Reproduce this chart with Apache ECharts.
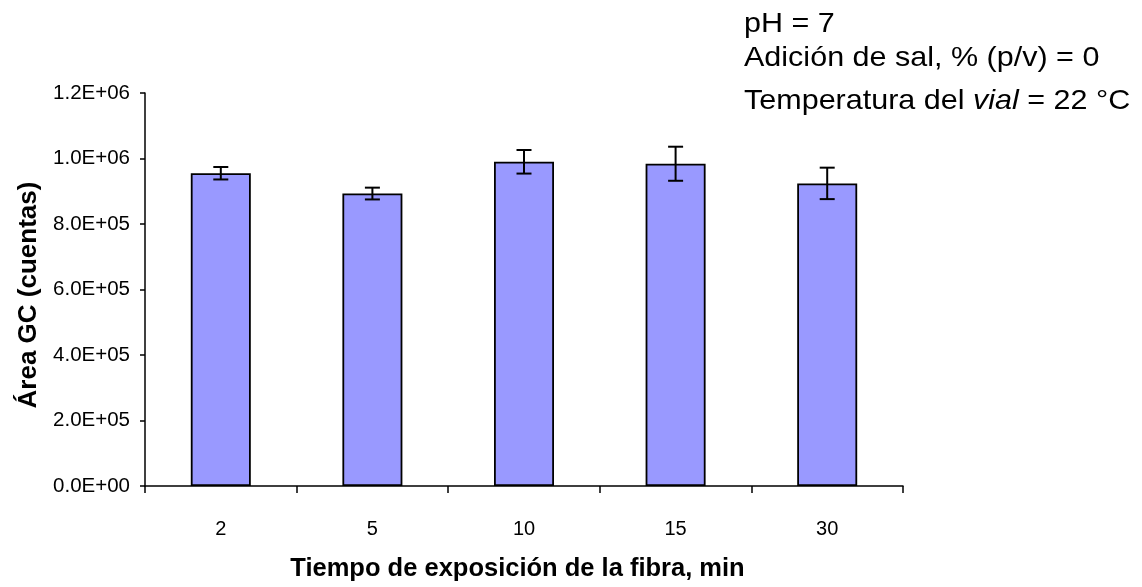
<!DOCTYPE html>
<html>
<head>
<meta charset="utf-8">
<script src="https://cdn.jsdelivr.net/npm/echarts@6/dist/echarts.min.js"></script>
<style>
html,body{margin:0;padding:0;background:#fff;}
#chart{width:1142px;height:587px;}
</style>
</head>
<body>
<div id="chart"></div>
<script>
// ---- data ----
var categories = ['2', '5', '10', '15', '30'];
var areaValues = [955000, 893000, 990000, 984000, 924000];
var areaErrors = [19000, 18000, 36000, 52000, 48000];
var yTickLabels = ['0.0E+00', '2.0E+05', '4.0E+05', '6.0E+05', '8.0E+05', '1.0E+06', '1.2E+06'];
var noteLines = ['pH = 7', 'Adición de sal, % (p/v) = 0', 'Temperatura del {it|vial} = 22 °C'];
var xTitle = 'Tiempo de exposición de la fibra, min';
var yTitle = 'Área GC (cuentas)';

var FONT = '"Liberation Sans", Arial, sans-serif';
var errData = areaValues.map(function (v, i) { return [i, v - areaErrors[i], v + areaErrors[i]]; });

var chart = echarts.init(document.getElementById('chart'), null, {renderer: 'canvas'});
chart.setOption({
  animation: false,
  backgroundColor: '#ffffff',
  grid: {left: 145, right: 239, top: 93, bottom: 99},
  xAxis: {
    type: 'category',
    data: categories,
    boundaryGap: true,
    name: xTitle,
    nameLocation: 'middle',
    nameGap: 70,
    nameTextStyle: {fontFamily: FONT, fontSize: 25.5, fontWeight: 'bold', color: '#000', padding: [0, 13, 0, 0]},
    axisLine: {lineStyle: {color: '#000', width: 1.5}},
    axisTick: {show: true, interval: 0, length: 7, lineStyle: {color: '#000', width: 1.5}},
    axisLabel: {fontFamily: FONT, fontSize: 20, color: '#000', margin: 33, interval: 0}
  },
  yAxis: {
    type: 'value',
    min: 0, max: 1200000, interval: 200000,
    name: yTitle,
    nameLocation: 'middle',
    nameRotate: 90,
    nameGap: 103,
    nameTextStyle: {fontFamily: FONT, fontSize: 26, fontWeight: 'bold', color: '#000', padding: [0, 11, 0, 0]},
    axisLine: {show: true, lineStyle: {color: '#000', width: 1.5}},
    axisTick: {show: true, length: 5, lineStyle: {color: '#000', width: 1.5}},
    splitLine: {show: false},
    axisLabel: {
      fontFamily: FONT, fontSize: 20.5, color: '#000', margin: 15,
      formatter: function (v, i) { return yTickLabels[Math.round(v / 200000)]; }
    }
  },
  series: [
    {
      type: 'bar',
      data: areaValues,
      barWidth: 60,
      itemStyle: {color: '#9999ff', borderColor: '#000', borderWidth: 1.8}
    },
    {
      type: 'custom',
      data: errData,
      z: 10,
      renderItem: function (params, api) {
        var x = api.value(0);
        var lo = api.coord([x, api.value(1)]);
        var hi = api.coord([x, api.value(2)]);
        var hw = 7.5;
        var st = {stroke: '#000', lineWidth: 2};
        return {
          type: 'group',
          children: [
            {type: 'line', shape: {x1: lo[0], y1: lo[1], x2: hi[0], y2: hi[1]}, style: st},
            {type: 'line', shape: {x1: lo[0] - hw, y1: lo[1], x2: lo[0] + hw, y2: lo[1]}, style: st},
            {type: 'line', shape: {x1: hi[0] - hw, y1: hi[1], x2: hi[0] + hw, y2: hi[1]}, style: st}
          ]
        };
      }
    }
  ],
  graphic: [
    {type: 'text', x: 744, y: 24, scaleX: 1.09, style: {text: noteLines[0], fontFamily: FONT, fontSize: 28, fill: '#000', verticalAlign: 'middle'}},
    {type: 'text', x: 744, y: 58, scaleX: 1.09, style: {text: noteLines[1], fontFamily: FONT, fontSize: 28, fill: '#000', verticalAlign: 'middle'}},
    {type: 'text', x: 744, y: 101, scaleX: 1.09, style: {text: noteLines[2], fontFamily: FONT, fontSize: 28, fill: '#000', verticalAlign: 'middle',
      rich: {it: {fontStyle: 'italic', fontFamily: FONT, fontSize: 28, fill: '#000'}}}}
  ]
});
</script>
</body>
</html>
